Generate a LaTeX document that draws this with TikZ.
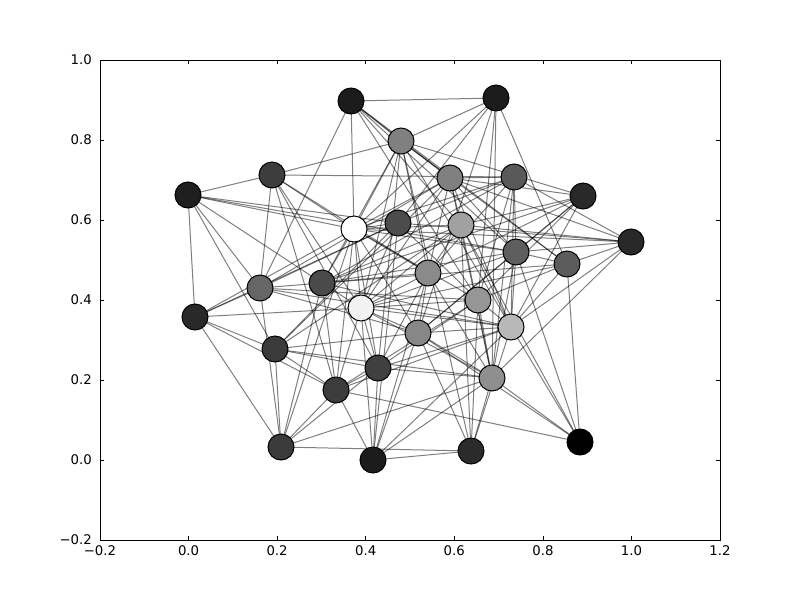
\documentclass[tikz,border=0pt]{standalone}
\usepackage{fontspec}
\setmainfont{DejaVu Sans}
\pgfdeclarelayer{bg}
\pgfdeclarelayer{paper}
\pgfsetlayers{paper,bg,main}
\begin{document}
\begin{tikzpicture}[x=1pt,y=-1pt,
  vtx/.style={circle,draw=black,line width=1pt,minimum size=26pt,inner sep=0pt},
  edg/.style={draw=black,opacity=0.5,line width=1pt},
  tick/.style={line width=0.8pt},
  lbl/.style={font=\fontsize{13.3}{16}\selectfont,inner sep=0pt}]
\useasboundingbox (0,0) rectangle (800,600);
\begin{pgfonlayer}{paper}
\fill[white] (0,0) rectangle (800,600);
\end{pgfonlayer}
% axes
\draw[line width=1pt] (100,60) rectangle (720,540);
\foreach \x/\t in {100/−0.2,188.6/0.0,277.1/0.2,365.7/0.4,454.3/0.6,542.9/0.8,631.4/1.0,720/1.2}{
  \draw[tick] (\x,540) -- (\x,535.6);
  \draw[tick] (\x,60) -- (\x,64.4);
  \node[lbl,anchor=north] (xl\x) at (\x,545) {\t};
}
\foreach \y/\t in {540/−0.2,460/0.0,380/0.2,300/0.4,220/0.6,140/0.8,60/1.0}{
  \draw[tick] (100,\y) -- (104.4,\y);
  \draw[tick] (720,\y) -- (715.6,\y);
  \node[lbl,anchor=east] (yl\y) at (92,\y) {\t};
}
% nodes
\foreach \i/\x/\y/\c in {
 1/351/101/89, 2/496/98/89, 3/401/141/50, 4/272/175/76, 5/188/195/88,
 6/450/178/50, 7/514/177/65, 8/583/196/84, 9/354/229/0, 10/398/223/70,
 11/461/225/37, 12/631/242/84, 13/516/252/63, 14/567/264/64, 15/260/288/60,
 16/322/283/71, 17/428/273/46, 18/195/317/84, 19/361/308/5, 20/478/300/41,
 21/511/327/28, 22/418/333/47, 23/275/349/77, 24/378/368/75, 25/492/378/44,
 26/336/390/76, 27/281/447/77, 28/373/460/89, 29/471/451/83, 30/580/442/100}{
  \node[vtx,fill=black!\c] (n\i) at (\x,\y) {};
}
\begin{pgfonlayer}{bg}
\foreach \a/\b in {
 1/2,1/3,1/6,1/9,1/11,1/13,1/14,1/15,1/20,
 2/3,2/9,2/10,2/14,2/20,2/22,2/25,
 3/4,3/6,3/8,3/9,3/14,3/16,3/17,3/19,3/21,3/24,3/29,
 4/5,4/7,4/9,4/15,4/17,4/19,4/26,4/24,
 5/9,5/10,5/13,5/15,5/16,5/18,5/23,
 6/7,6/8,6/9,6/11,6/12,6/13,6/15,6/17,6/19,6/21,6/23,6/25,
 7/9,7/10,7/12,7/13,7/16,7/17,7/20,7/21,7/25,
 8/11,8/13,8/16,8/17,8/20,8/21,8/22,
 9/10,9/11,9/12,9/13,9/16,9/17,9/18,9/19,9/20,9/22,9/24,9/26,9/27,
 10/12,10/15,10/18,10/19,10/20,10/23,10/28,
 11/12,11/16,11/17,11/19,11/21,11/23,11/25,11/29,11/30,
 12/13,12/14,12/21,12/25,
 13/14,13/16,13/19,13/21,13/22,13/25,13/30,
 14/16,14/19,14/20,14/21,14/30,
 15/16,15/18,15/20,15/21,15/22,15/27,
 16/17,16/19,16/21,16/26,16/27,
 17/19,17/22,17/24,17/25,17/28,
 18/19,18/23,18/26,18/27,
 19/20,19/21,19/22,19/24,19/25,19/26,19/28,
 20/21,20/24,20/25,20/26,20/29,
 21/22,21/24,21/26,21/28,21/29,21/30,
 22/23,22/25,22/28,22/29,22/30,
 23/24,23/25,23/26,23/27,
 24/25,24/26,24/27,24/28,
 25/27,25/28,25/29,25/30,
 26/27,26/28,26/30,
 27/29,28/29}{
  \draw[edg] (n\a.center) -- (n\b.center);
}
\end{pgfonlayer}
\end{tikzpicture}
\end{document}
